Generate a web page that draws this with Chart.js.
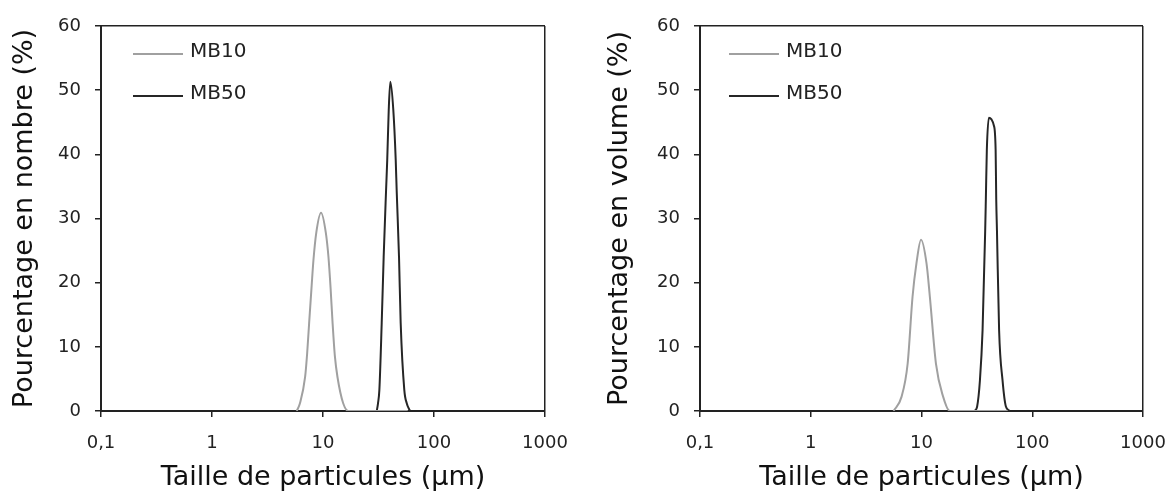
<!DOCTYPE html>
<html>
<head>
<meta charset="utf-8">
<script src="https://cdn.jsdelivr.net/npm/chart.js@4.4.1/dist/chart.umd.min.js"></script>
<style>
  body { margin: 0; background: #fff; }
  .wrap { position: absolute; top: 0; width: 583px; height: 496px; }
</style>
</head>
<body>
<div class="wrap" style="left:0"><canvas id="chartNombre" width="583" height="496"></canvas></div>
<div class="wrap" style="left:583px"><canvas id="chartVolume" width="583" height="496"></canvas></div>
<script>
// axis ticks (log x axis, decimal comma as in the original)
const xTicks = [0.1, 1, 10, 100, 1000];
const xTickLabels = ['0,1', '1', '10', '100', '1000'];

// Pourcentage en nombre
const sizeMB10Nombre = [5.8, 6.2, 6.9, 7.2, 7.5, 7.9, 8.2, 8.7, 9.6, 10.6, 11.2, 11.7, 12.2, 12.8, 13.5, 15.2, 16.9, 25, 40, 58];
const mb10Nombre     = [0, 1.2, 5.3, 9.0, 13.7, 19.5, 23.5, 27.8, 30.9, 27.8, 24.0, 19.2, 13.7, 8.5, 5.3, 1.2, 0, 0, 0, 0];
const sizeMB50Nombre = [30.5, 31.3, 32.2, 33.8, 35.2, 37.0, 37.9, 39.1, 40.4, 43.0, 45.2, 46.1, 48.4, 50.1, 54.0, 56.8, 60.8];
const mb50Nombre     = [0, 1.2, 3.3, 13.7, 24.0, 34.4, 39.1, 46.9, 51.3, 46.9, 39.1, 34.4, 24.0, 13.7, 3.3, 1.2, 0];

// Pourcentage en volume
const sizeMB10Volume = [5.6, 6.6, 7.5, 8.3, 9.0, 9.9, 11.1, 11.9, 13.5, 15.7, 18.0, 30, 45, 60];
const mb10Volume     = [0, 2.2, 7.4, 17.8, 23.0, 26.7, 23.0, 17.8, 7.4, 2.2, 0, 0, 0, 0];
const sizeMB50Volume = [30.3, 31.8, 33.7, 35.6, 37.6, 38.1, 38.9, 40.6, 45.0, 46.7, 47.3, 48.0, 50.2, 53.9, 57.8, 62.8];
const mb50Volume     = [0, 0.7, 4.8, 12.6, 28.2, 32.9, 40.7, 45.7, 44.5, 40.7, 32.9, 28.2, 12.6, 4.8, 0.7, 0];

const FONT = 'Verdana, "DejaVu Sans", sans-serif';
const AXIS_COLOR = '#222222';
const seriesColors = { MB10: '#a0a0a0', MB50: '#262626' };

function toPoints(xs, ys) {
  return xs.map((x, i) => ({ x: x, y: ys[i] }));
}

// legend drawn inside the plot, top left
const insideLegend = {
  id: 'insideLegend',
  afterDraw(chart, args, opts) {
    const ctx = chart.ctx;
    const area = chart.chartArea;
    ctx.save();
    ctx.font = '20px ' + FONT;
    ctx.textBaseline = 'middle';
    chart.data.datasets.forEach((ds, i) => {
      const y = area.top + opts.top + i * opts.gap;
      const x0 = area.left + opts.left;
      ctx.strokeStyle = ds.borderColor;
      ctx.lineWidth = 2;
      ctx.beginPath();
      ctx.moveTo(x0, y);
      ctx.lineTo(x0 + 50, y);
      ctx.stroke();
      ctx.fillStyle = AXIS_COLOR;
      ctx.fillText(ds.label, x0 + 57, y - 2);
    });
    ctx.restore();
  }
};

function makeChart(id, yTitle, mb10, mb50, cfg) {
  return new Chart(document.getElementById(id), {
    type: 'line',
    data: {
      datasets: [
        { label: 'MB10', data: mb10, borderColor: seriesColors.MB10, borderWidth: 2, pointRadius: 0, cubicInterpolationMode: 'monotone', fill: false },
        { label: 'MB50', data: mb50, borderColor: seriesColors.MB50, borderWidth: 2, pointRadius: 0, cubicInterpolationMode: 'monotone', fill: false }
      ]
    },
    options: {
      responsive: false,
      animation: false,
      layout: { padding: { top: 26, right: cfg.right, left: 0, bottom: 0 } },
      plugins: {
        legend: { display: false },
        tooltip: { enabled: false },
        insideLegend: { left: cfg.legendLeft, top: 28, gap: 42 }
      },
      scales: {
        x: {
          type: 'logarithmic',
          min: 0.1,
          max: 1000,
          afterBuildTicks: (s) => { s.ticks = xTicks.map(v => ({ value: v })); },
          afterFit: (s) => {
            s.height = 85;
            s.paddingLeft = 0;
            s.paddingRight = 0;
          },
          ticks: {
            autoSkip: false,
            maxRotation: 0,
            padding: 16,
            color: AXIS_COLOR,
            font: { family: FONT, size: 18 },
            callback: (v, i) => xTickLabels[i]
          },
          grid: {
            color: (c) => (c.tick && c.tick.value === 1000 ? AXIS_COLOR : 'rgba(0,0,0,0)'),
            lineWidth: 1.5,
            tickColor: AXIS_COLOR,
            tickLength: 6,
            tickWidth: 1.5
          },
          border: { color: AXIS_COLOR, width: 2 },
          title: {
            display: true,
            text: 'Taille de particules (µm)',
            color: '#111',
            font: { family: FONT, size: 27 },
            padding: { top: 0, bottom: 2 }
          }
        },
        y: {
          min: 0,
          max: 60,
          afterFit: (s) => { s.width = cfg.yWidth; },
          ticks: {
            stepSize: 10,
            padding: 14,
            color: AXIS_COLOR,
            font: { family: FONT, size: 18 }
          },
          grid: {
            color: (c) => (c.tick && c.tick.value === 60 ? AXIS_COLOR : 'rgba(0,0,0,0)'),
            lineWidth: 1.5,
            tickColor: AXIS_COLOR,
            tickLength: 6,
            tickWidth: 1.5
          },
          border: { color: AXIS_COLOR, width: 2 },
          title: {
            display: true,
            text: yTitle,
            color: '#111',
            font: { family: FONT, size: 27 },
            padding: { top: cfg.titlePad, bottom: 0 }
          }
        }
      }
    },
    plugins: [insideLegend]
  });
}

makeChart('chartNombre', 'Pourcentage en nombre (%)',
  toPoints(sizeMB10Nombre, mb10Nombre), toPoints(sizeMB50Nombre, mb50Nombre),
  { right: 38, yWidth: 101, titlePad: 9, legendLeft: 32 });

makeChart('chartVolume', 'Pourcentage en volume (%)',
  toPoints(sizeMB10Volume, mb10Volume), toPoints(sizeMB50Volume, mb50Volume),
  { right: 23, yWidth: 117, titlePad: 21, legendLeft: 29 });
</script>
</body>
</html>
